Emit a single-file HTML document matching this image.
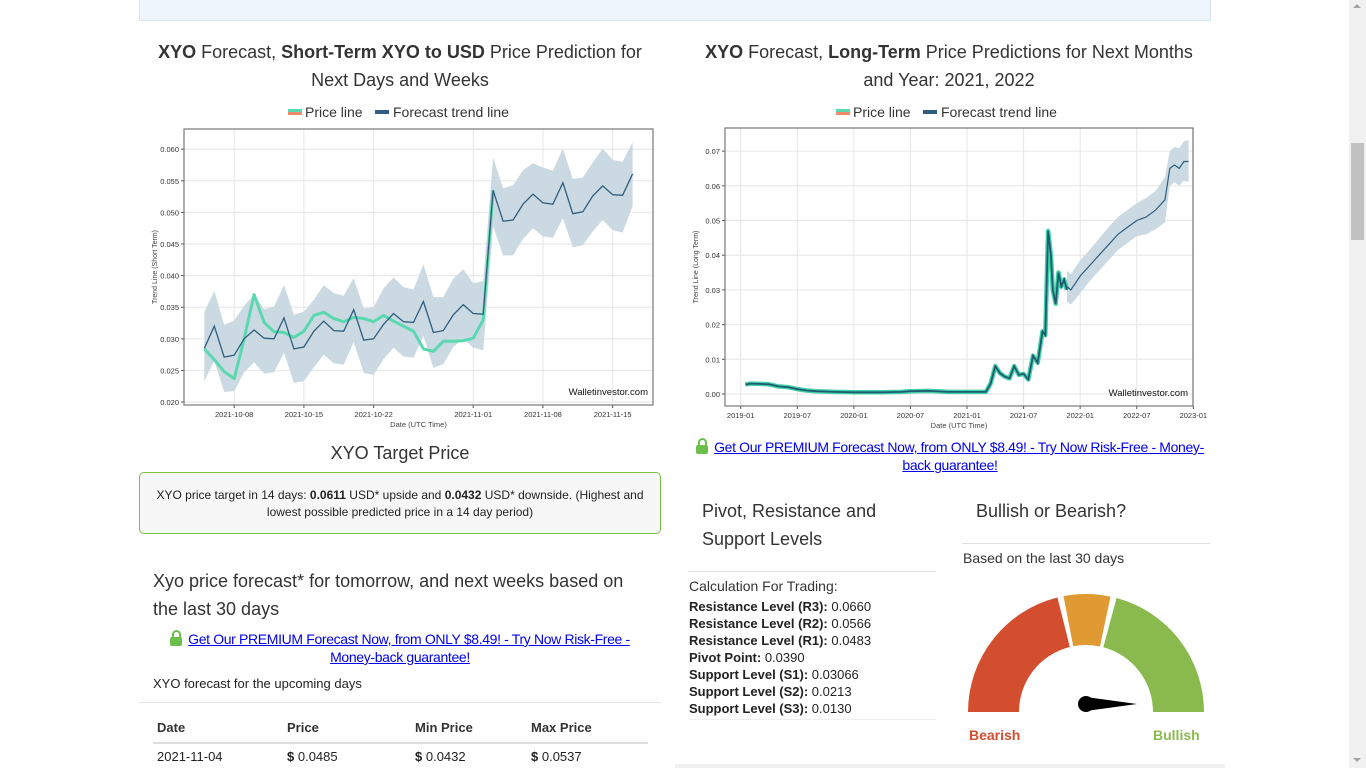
<!DOCTYPE html>
<html><head><meta charset="utf-8">
<style>
body{margin:0;width:1366px;height:768px;overflow:hidden;background:#fff;font-family:"Liberation Sans",Arial,sans-serif;color:#222;position:relative}
.abs{position:absolute}
.h{font-size:18px;color:#333;line-height:28px}
a{color:#0000ee;text-decoration:underline}
.lnk{font-size:14px;text-align:center;line-height:18px;letter-spacing:-0.35px}
.lock{display:inline-block;width:12px;height:9px;background:#6cbf4a;border-radius:2px;position:relative;margin-right:6px;vertical-align:-2px}
.lock:before{content:"";position:absolute;left:2px;top:-7px;width:5px;height:7px;border:2px solid #6cbf4a;border-bottom:none;border-radius:5px 5px 0 0}
.lv{font-size:13px;line-height:17px}
</style></head><body>
<div class="abs" style="left:139px;top:-1px;width:1070px;height:20px;background:#eef5fd;border:1px solid #d9e6f2"></div>

<div class="abs h" style="left:140px;top:38px;width:520px;text-align:center"><b>XYO</b> Forecast, <b>Short-Term XYO to USD</b> Price Prediction for Next Days and Weeks</div>
<div class="abs h" style="left:688px;top:38px;width:522px;text-align:center"><b>XYO</b> Forecast, <b>Long-Term</b> Price Predictions for Next Months and Year: 2021, 2022</div>

<svg class="abs" id="c1" style="left:140px;top:100px" width="525" height="335"></svg>
<svg class="abs" id="c2" style="left:688px;top:100px" width="525" height="335"></svg>

<div class="abs" style="left:140px;top:443px;width:520px;text-align:center;font-size:18px;color:#333">XYO Target Price</div>
<div class="abs" style="left:139px;top:472px;width:522px;height:62px;border:1px solid #7bc143;border-radius:5px;background:#f7f7f7;font-size:12px;line-height:17px;text-align:center;box-sizing:border-box;padding:14px 12px 0">XYO price target in 14 days: <b>0.0611</b> USD* upside and <b>0.0432</b> USD* downside. (Highest and lowest possible predicted price in a 14 day period)</div>

<div class="abs h" style="left:153px;top:567px;width:500px">Xyo price forecast* for tomorrow, and next weeks based on the last 30 days</div>
<div class="abs lnk" style="left:160px;top:630px;width:480px"><span class="lock"></span><a>Get Our PREMIUM Forecast Now, from ONLY $8.49! - Try Now Risk-Free - Money-back guarantee!</a></div>
<div class="abs" style="left:153px;top:676px;font-size:13px">XYO forecast for the upcoming days</div>
<div class="abs" style="left:139px;top:702px;width:522px;border-top:1px solid #e4e4e4"></div>
<div class="abs" style="left:153px;top:720px;width:495px;font-size:13px">
<div style="height:22px;border-bottom:2px solid #ddd;font-weight:bold;color:#333;position:relative">
<span class="abs" style="left:4px">Date</span><span class="abs" style="left:134px">Price</span><span class="abs" style="left:262px">Min Price</span><span class="abs" style="left:378px">Max Price</span></div>
<div style="height:24px;position:relative;line-height:26px"><span class="abs" style="left:4px">2021-11-04</span><span class="abs" style="left:134px"><b>$</b> 0.0485</span><span class="abs" style="left:262px"><b>$</b> 0.0432</span><span class="abs" style="left:378px"><b>$</b> 0.0537</span></div></div>

<div class="abs lnk" style="left:692px;top:438px;width:516px"><span class="lock"></span><a>Get Our PREMIUM Forecast Now, from ONLY $8.49! - Try Now Risk-Free - Money-back guarantee!</a></div>

<div class="abs h" style="left:702px;top:497px">Pivot, Resistance and<br>Support Levels</div>
<div class="abs" style="left:688px;top:571px;width:248px;border-top:1px solid #ddd"></div>
<div class="abs" style="left:689px;top:577px;width:247px;border-bottom:1px solid #eee;padding-bottom:2px">
<div style="font-size:14px;line-height:18px;margin-bottom:3px;color:#333">Calculation For Trading:</div>
<div class="lv"><b>Resistance Level (R3):</b> 0.0660</div>
<div class="lv"><b>Resistance Level (R2):</b> 0.0566</div>
<div class="lv"><b>Resistance Level (R1):</b> 0.0483</div>
<div class="lv"><b>Pivot Point:</b> 0.0390</div>
<div class="lv"><b>Support Level (S1):</b> 0.03066</div>
<div class="lv"><b>Support Level (S2):</b> 0.0213</div>
<div class="lv"><b>Support Level (S3):</b> 0.0130</div>
</div>

<div class="abs h" style="left:976px;top:497px">Bullish or Bearish?</div>
<div class="abs" style="left:962px;top:543px;width:248px;border-top:1px solid #ddd"></div>
<div class="abs" style="left:963px;top:550px;font-size:14px;color:#333">Based on the last 30 days</div>
<svg class="abs" id="gauge" style="left:960px;top:580px" width="250" height="170"></svg>
<div class="abs" style="left:969px;top:727px;font-size:14px;font-weight:bold;color:#d24e2e">Bearish</div>
<div class="abs" style="left:1153px;top:727px;font-size:14px;font-weight:bold;color:#8aba4e">Bullish</div>
<div class="abs" style="left:675px;top:764px;width:550px;height:4px;background:#f0f0f0"></div>

<div class="abs" style="left:1349px;top:0;width:17px;height:768px;background:#f1f1f1"></div>
<div class="abs" style="left:1351px;top:143px;width:13px;height:97px;background:#c1c1c1"></div>
<div class="abs" style="left:1353px;top:4px;width:0;height:0;border:4px solid transparent;border-bottom-color:#a3a3a3;border-top:none"></div>
<div class="abs" style="left:1353px;top:758px;width:0;height:0;border:4px solid transparent;border-top-color:#a3a3a3;border-bottom:none"></div>

<script>
// ---- short-term chart data ----
const stDays = 44; // 2021-10-05 .. 2021-11-17
const stForecast = [0.0285,0.0320,0.0271,0.0274,0.0300,0.0314,0.0301,0.0300,0.0333,0.0284,0.0287,0.0312,0.0328,0.0313,0.0312,0.0346,0.0298,0.0300,0.0323,0.0340,0.0327,0.0326,0.0359,0.0310,0.0313,0.0338,0.0354,0.0340,0.0339,0.0535,0.0486,0.0488,0.0513,0.0529,0.0515,0.0513,0.0547,0.0498,0.0501,0.0526,0.0542,0.0528,0.0527,0.0561];
const stUpper = [0.0342,0.0376,0.0322,0.0329,0.0352,0.0370,0.0347,0.0351,0.0385,0.0338,0.0343,0.0362,0.0385,0.0372,0.0368,0.0396,0.0348,0.0350,0.0380,0.0397,0.0382,0.0378,0.0418,0.0366,0.0366,0.0395,0.0410,0.0388,0.0391,0.0587,0.0538,0.0543,0.0567,0.0578,0.0571,0.0566,0.0601,0.0553,0.0555,0.0579,0.0601,0.0583,0.0580,0.0611];
const stLower = [0.0233,0.0265,0.0216,0.0217,0.0247,0.0263,0.0245,0.0247,0.0278,0.0230,0.0233,0.0255,0.0275,0.0261,0.0259,0.0295,0.0246,0.0243,0.0268,0.0286,0.0272,0.0270,0.0305,0.0254,0.0260,0.0287,0.0300,0.0286,0.0282,0.0478,0.0432,0.0432,0.0458,0.0475,0.0462,0.0460,0.0491,0.0445,0.0448,0.0470,0.0488,0.0472,0.0468,0.0510];
const stPrice = [0.0284,0.0267,0.0248,0.0237,0.0300,0.0370,0.0326,0.0311,0.0310,0.0302,0.0312,0.0337,0.0342,0.0332,0.0327,0.0334,0.0332,0.0327,0.0337,0.0328,0.0320,0.0312,0.0284,0.0280,0.0296,0.0296,0.0297,0.0301,0.0330,0.0535];
const stYTicks = [0.020,0.025,0.030,0.035,0.040,0.045,0.050,0.055,0.060];
const stXTickLabels = ["2021-10-08","2021-10-15","2021-10-22","2021-11-01","2021-11-08","2021-11-15"];
const stXTickDays = [3,10,17,27,34,41];
// ---- long-term chart data ----
const ltPriceMonths = [0.5,1,2,3,4,5,6,7,8,10,12,15,17,18,20,22,24,26,26.5,27,27.5,28,28.5,29,29.5,30,30.5,31,31.5,32,32.3,32.6,32.9,33.1,33.4,33.7,34,34.3,34.6];
const ltPriceValues = [0.0027,0.0030,0.0029,0.0028,0.0022,0.0020,0.0014,0.0010,0.0008,0.0006,0.0005,0.0005,0.0006,0.0008,0.0009,0.0006,0.0006,0.0006,0.0030,0.0080,0.0060,0.0050,0.0045,0.0080,0.0055,0.0058,0.0042,0.0110,0.0090,0.0180,0.0170,0.0470,0.0400,0.0300,0.0260,0.0350,0.0310,0.0330,0.0300];
const ltFcMonths = [34.6,35,36,37,38,39,40,41,42,43,44,45,45.5,46,46.5,47,47.5];
const ltFcValues = [0.0310,0.0300,0.0340,0.0370,0.0400,0.0430,0.0460,0.0480,0.0500,0.0510,0.0530,0.0560,0.0650,0.0660,0.0650,0.0670,0.0670];
const ltFcUpper = [0.0355,0.0345,0.0385,0.0415,0.0448,0.0480,0.0510,0.0530,0.0550,0.0565,0.0585,0.0625,0.0700,0.0712,0.0708,0.0728,0.0732];
const ltFcLower = [0.0265,0.0258,0.0290,0.0325,0.0355,0.0385,0.0415,0.0435,0.0455,0.0460,0.0475,0.0495,0.0600,0.0610,0.0600,0.0615,0.0610];
const ltYTicks = [0,0.01,0.02,0.03,0.04,0.05,0.06,0.07];
const ltXTickLabels = ["2019-01","2019-07","2020-01","2020-07","2021-01","2021-07","2022-01","2022-07","2023-01"];
const ltXTickMonths = [0,6,12,18,24,30,36,42,48];

const NS="http://www.w3.org/2000/svg";
function mk(svg,tag,attrs,txt){const e=document.createElementNS(NS,tag);for(const k in attrs)e.setAttribute(k,attrs[k]);if(txt!==undefined)e.textContent=txt;svg.appendChild(e);return e;}

function legend(svg,cx){
  const g=mk(svg,'g',{});
  
  
  mk(g,'rect',{x:cx-112,y:9,width:14,height:3,fill:'#5ad8b0'});
  mk(g,'rect',{x:cx-112,y:12,width:14,height:3,fill:'#f48a6c'});
  mk(g,'text',{x:cx-95,y:17,'font-size':14,fill:'#333'},'Price line');
  mk(g,'rect',{x:cx-25,y:10,width:14,height:4,fill:'#2e5f80'});
  mk(g,'text',{x:cx-7,y:17,'font-size':14,fill:'#333'},'Forecast trend line');
}

function chart(svg,o){
  const X=o.x, Y=o.y;
  o.yTicks.forEach(t=>{const y=Y(t);
    mk(svg,'line',{x1:o.l,x2:o.r,y1:y,y2:y,stroke:'#e6e6e6','stroke-width':1});
    mk(svg,'line',{x1:o.l-3,x2:o.l,y1:y,y2:y,stroke:'#555'});
    mk(svg,'text',{x:o.l-5,y:y+3,'font-size':7.5,'text-anchor':'end',fill:'#333'},o.yFmt(t));});
  o.xTicks.forEach((t,i)=>{const x=X(t);
    mk(svg,'line',{x1:x,x2:x,y1:o.t,y2:o.b,stroke:'#e6e6e6'});
    mk(svg,'line',{x1:x,x2:x,y1:o.b,y2:o.b+3,stroke:'#555'});
    mk(svg,'text',{x:x,y:o.b+12,'font-size':7.5,'text-anchor':'middle',fill:'#333'},o.xLabels[i]);});
  o.draw();
  mk(svg,'rect',{x:o.l,y:o.t,width:o.r-o.l,height:o.b-o.t,fill:'none',stroke:'#777','stroke-width':1.2});
  mk(svg,'text',{x:(o.l+o.r)/2,y:o.b+22,'font-size':7.5,'text-anchor':'middle',fill:'#444'},'Date (UTC Time)');
  const yl=mk(svg,'text',{x:0,y:0,'font-size':7,'text-anchor':'middle',fill:'#444',transform:`translate(${o.l-27},${(o.t+o.b)/2}) rotate(-90)`},o.yTitle);
  
  mk(svg,'text',{x:o.r-5,y:o.b-10,'font-size':9.5,'text-anchor':'end',fill:'#111'},'Walletinvestor.com');
}
function pts(xs,ys,X,Y){return xs.map((v,i)=>X(v).toFixed(1)+','+Y(ys[i]).toFixed(1)).join(' ');}

(function(){
  const svg=document.getElementById('c1');
  legend(svg,260);
  const l=44,r=513,t=29,b=305;
  const X=d=>64.3+d*9.96;
  const Y=v=>302-(v-0.020)/0.005*31.6;
  const days=stForecast.map((_,i)=>i);
  chart(svg,{l,r,t,b,x:X,y:Y,yTicks:stYTicks,yFmt:v=>v.toFixed(3),xTicks:stXTickDays,xLabels:stXTickLabels,yTitle:'Trend Line (Short Term)',
    draw(){
      const band=mk(svg,'polygon',{points:pts(days,stUpper,X,Y)+' '+pts(days.slice().reverse(),stLower.slice().reverse(),X,Y),fill:'#cbd9e2'});
      
      const p=mk(svg,'polyline',{points:pts(stPrice.map((_,i)=>i),stPrice,X,Y),fill:'none',stroke:'#5ad8b0','stroke-width':3,'stroke-linejoin':'round'});
      
      const f=mk(svg,'polyline',{points:pts(days,stForecast,X,Y),fill:'none',stroke:'#2e5f80','stroke-width':1.3});
      
    }});
})();

(function(){
  const svg=document.getElementById('c2');
  legend(svg,260);
  const l=37,r=505,t=28,b=306;
  const X=m=>52.7+m*9.43;
  const Y=v=>294-v/0.01*34.7;
  chart(svg,{l,r,t,b,x:X,y:Y,yTicks:ltYTicks,yFmt:v=>v.toFixed(2),xTicks:ltXTickMonths,xLabels:ltXTickLabels,yTitle:'Trend Line (Long Term)',
    draw(){
      const band=mk(svg,'polygon',{points:pts(ltFcMonths,ltFcUpper,X,Y)+' '+pts(ltFcMonths.slice().reverse(),ltFcLower.slice().reverse(),X,Y),fill:'#cbd9e2'});
      
      const p=mk(svg,'polyline',{points:pts(ltPriceMonths,ltPriceValues,X,Y),fill:'none',stroke:'#3fd0a8','stroke-width':4.5,'stroke-linejoin':'round'});
      
      const p2=mk(svg,'polyline',{points:pts(ltPriceMonths,ltPriceValues,X,Y),fill:'none',stroke:'#1f5a70','stroke-width':1.8});
      
      const f=mk(svg,'polyline',{points:pts(ltFcMonths,ltFcValues,X,Y),fill:'none',stroke:'#2e5f80','stroke-width':1.2});
      
    }});
})();

(function(){
  const svg=document.getElementById('gauge');
  const cx=126,cy=132,R=118,ri=67;
  function arc(a0,a1,col,name){
    const rad=a=>a*Math.PI/180;
    const p=(r,a)=>[cx+r*Math.cos(rad(a)),cy-r*Math.sin(rad(a))];
    const [x0,y0]=p(R,a0),[x1,y1]=p(R,a1),[x2,y2]=p(ri,a1),[x3,y3]=p(ri,a0);
    const e=mk(svg,'path',{d:`M${x0},${y0} A${R},${R} 0 0 1 ${x1},${y1} L${x2},${y2} A${ri},${ri} 0 0 0 ${x3},${y3} Z`,fill:col});
    
  }
  arc(180,104,'#d24e2e','bearish-segment');
  arc(101,78,'#e09a33','neutral-segment');
  arc(75,0,'#8aba4e','bullish-segment');
  const n=mk(svg,'path',{d:`M${cx},${cy-15} L${cx+51},${cy-8} L${cx},${cy-1} Z`,fill:'#000'});
  
  mk(svg,'circle',{cx:cx,cy:cy-8,r:8,fill:'#000'});
})();
</script>
</body></html>
